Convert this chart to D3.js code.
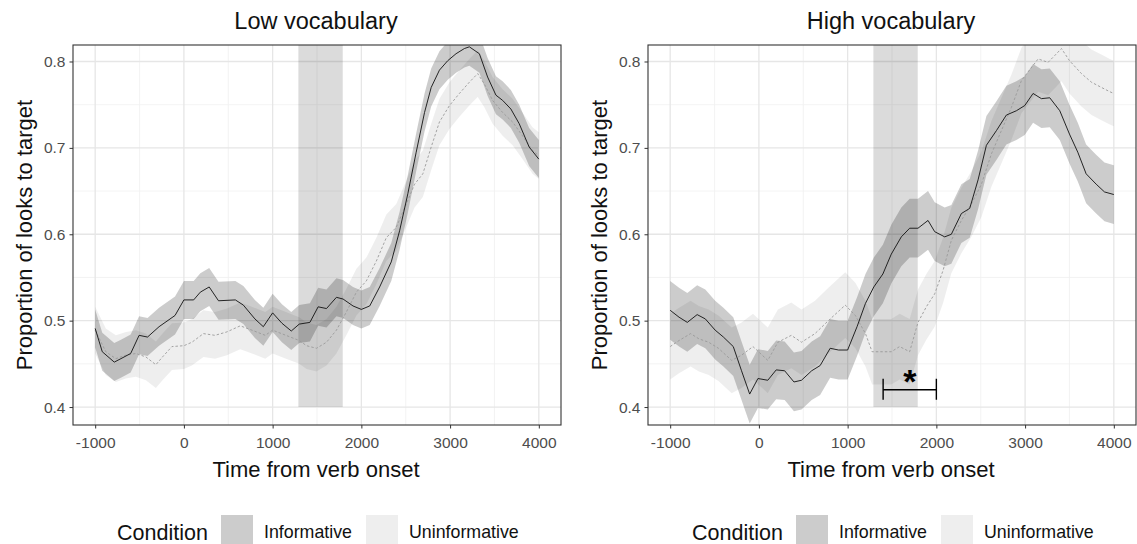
<!DOCTYPE html>
<html>
<head>
<meta charset="utf-8">
<script src="https://cdn.jsdelivr.net/npm/d3@7"></script>
<style>
  body { margin: 0; background: #fff; }
  text { font-family: Arial, "Liberation Sans", sans-serif; }
</style>
</head>
<body>
<div id="chart"></div>
<script>
// Data
var panelTitles = ["Low vocabulary", "High vocabulary"];
var xTicks = [-1000, 0, 1000, 2000, 3000, 4000];
var yTicks = [0.4, 0.5, 0.6, 0.7, 0.8];
var conditions = ["Informative", "Uninformative"];

var lowInfTime = [-1000, -920, -785, -710, -600, -505, -410, -280, -100, 0, 110, 185, 285, 390, 580, 670, 800, 895, 1000, 1105, 1210, 1300, 1420, 1513, 1607, 1719, 1794, 1906, 2000, 2094, 2206, 2337, 2431, 2524, 2618, 2712, 2787, 2880, 2974, 3067, 3161, 3217, 3330, 3423, 3517, 3592, 3685, 3779, 3891, 4000];
var lowInf = [0.491, 0.464, 0.452, 0.456, 0.462, 0.483, 0.481, 0.493, 0.506, 0.524, 0.524, 0.533, 0.539, 0.523, 0.524, 0.518, 0.502, 0.493, 0.509, 0.497, 0.488, 0.496, 0.498, 0.516, 0.514, 0.527, 0.525, 0.517, 0.513, 0.517, 0.539, 0.568, 0.604, 0.647, 0.695, 0.741, 0.770, 0.790, 0.801, 0.809, 0.815, 0.817, 0.809, 0.782, 0.761, 0.755, 0.745, 0.728, 0.701, 0.687];
var lowUninfTime = [-1000, -880, -767, -654, -541, -429, -316, -241, -135, 0, 90, 220, 350, 485, 635, 767, 917, 1000, 1150, 1300, 1382, 1494, 1607, 1719, 1831, 1944, 2056, 2169, 2281, 2393, 2506, 2600, 2693, 2787, 2880, 2993, 3105, 3217, 3311, 3386, 3479, 3592, 3704, 3816, 3929, 4000];
var lowUninf = [0.489, 0.464, 0.456, 0.460, 0.462, 0.458, 0.449, 0.458, 0.470, 0.471, 0.475, 0.485, 0.483, 0.487, 0.494, 0.489, 0.483, 0.489, 0.483, 0.477, 0.471, 0.468, 0.475, 0.489, 0.510, 0.533, 0.546, 0.569, 0.596, 0.608, 0.635, 0.658, 0.670, 0.701, 0.730, 0.749, 0.763, 0.776, 0.786, 0.774, 0.755, 0.741, 0.730, 0.714, 0.697, 0.691];

var highInfTime = [-1000, -900, -807, -696, -604, -493, -400, -289, -196, -104, -11, 100, 195, 290, 395, 480, 595, 690, 803, 898, 1000, 1106, 1201, 1295, 1397, 1492, 1605, 1699, 1793, 1906, 1981, 2094, 2169, 2282, 2376, 2470, 2564, 2677, 2789, 2902, 2996, 3090, 3184, 3278, 3391, 3500, 3594, 3688, 3801, 3895, 4000];
var highInf = [0.512, 0.504, 0.498, 0.507, 0.502, 0.489, 0.481, 0.470, 0.442, 0.415, 0.433, 0.431, 0.443, 0.442, 0.429, 0.431, 0.442, 0.448, 0.468, 0.466, 0.466, 0.493, 0.520, 0.539, 0.554, 0.577, 0.597, 0.607, 0.607, 0.616, 0.603, 0.597, 0.600, 0.624, 0.630, 0.663, 0.703, 0.720, 0.738, 0.743, 0.749, 0.763, 0.757, 0.758, 0.743, 0.716, 0.695, 0.670, 0.658, 0.649, 0.646];
var highUninfTime = [-1000, -900, -770, -677, -566, -456, -307, -196, -67, 100, 214, 365, 480, 632, 783, 973, 1087, 1201, 1276, 1390, 1492, 1586, 1699, 1793, 1887, 1981, 2075, 2169, 2282, 2395, 2508, 2620, 2733, 2846, 2959, 3034, 3147, 3259, 3335, 3410, 3500, 3635, 3748, 3860, 3955, 4000];
var highUninf = [0.470, 0.477, 0.485, 0.479, 0.475, 0.468, 0.454, 0.460, 0.470, 0.454, 0.475, 0.483, 0.475, 0.485, 0.500, 0.518, 0.506, 0.485, 0.464, 0.464, 0.464, 0.470, 0.464, 0.498, 0.516, 0.531, 0.558, 0.593, 0.616, 0.635, 0.658, 0.693, 0.720, 0.747, 0.778, 0.788, 0.803, 0.799, 0.807, 0.815, 0.801, 0.786, 0.776, 0.770, 0.765, 0.763];

// ribbon half widths
var ribbonHalf = { lowInf: 0.022, lowUninf: 0.027, highInf: 0.034, highUninf: 0.038 };
var windowStart = 1290, windowEnd = 1790, windowBottom = 0.4;
var sigStart = 1400, sigEnd = 2000, sigY = 0.42;

var panels = [
  { title: panelTitles[0], left: 73, inf: [lowInfTime, lowInf, ribbonHalf.lowInf], uninf: [lowUninfTime, lowUninf, ribbonHalf.lowUninf], sig: false },
  { title: panelTitles[1], left: 648, inf: [highInfTime, highInf, ribbonHalf.highInf], uninf: [highUninfTime, highUninf, ribbonHalf.highUninf], sig: true }
];

var svgWidth = 1137, svgHeight = 544;
var panelW = 488, plotTop = 45, plotBottom = 425;

var svg = d3.select("#chart").append("svg")
  .attr("width", svgWidth)
  .attr("height", svgHeight);

var y = d3.scaleLinear().domain([0.3792, 0.8191]).range([plotBottom, plotTop]);

panels.forEach(function(p, i) {
  var x = d3.scaleLinear().domain([-1250, 4250]).range([p.left, p.left + panelW]);
  var g = svg.append("g");

  svg.append("clipPath").attr("id", "clip" + i)
    .append("rect").attr("x", p.left).attr("y", plotTop).attr("width", panelW).attr("height", plotBottom - plotTop);

  // grid
  var minorX = [-500, 500, 1500, 2500, 3500];
  var minorY = [0.45, 0.55, 0.65, 0.75];
  g.selectAll(".gxm").data(minorX).enter().append("line")
    .attr("x1", d => x(d)).attr("x2", d => x(d)).attr("y1", plotTop).attr("y2", plotBottom)
    .attr("stroke", "#f0f0f0").attr("stroke-width", 0.8);
  g.selectAll(".gym").data(minorY).enter().append("line")
    .attr("x1", p.left).attr("x2", p.left + panelW).attr("y1", d => y(d)).attr("y2", d => y(d))
    .attr("stroke", "#f0f0f0").attr("stroke-width", 0.8);
  g.selectAll(".gx").data(xTicks).enter().append("line")
    .attr("x1", d => x(d)).attr("x2", d => x(d)).attr("y1", plotTop).attr("y2", plotBottom)
    .attr("stroke", "#e6e6e6").attr("stroke-width", 1.3);
  g.selectAll(".gy").data(yTicks).enter().append("line")
    .attr("x1", p.left).attr("x2", p.left + panelW).attr("y1", d => y(d)).attr("y2", d => y(d))
    .attr("stroke", "#e6e6e6").attr("stroke-width", 1.3);

  var plot = g.append("g").attr("clip-path", "url(#clip" + i + ")");

  // analysis window
  plot.append("rect")
    .attr("x", x(windowStart)).attr("width", x(windowEnd) - x(windowStart))
    .attr("y", plotTop).attr("height", y(windowBottom) - plotTop)
    .attr("fill", "#000").attr("fill-opacity", 0.14);

  function ribbon(s, opacity) {
    var pts = s[0].map((t, k) => ({ t: t, v: s[1][k] }));
    var area = d3.area().x(d => x(d.t)).y0(d => y(d.v - s[2])).y1(d => y(d.v + s[2]));
    plot.append("path").datum(pts).attr("d", area)
      .attr("fill", "#000").attr("fill-opacity", opacity);
  }
  function line(s, color, dash) {
    var pts = s[0].map((t, k) => ({ t: t, v: s[1][k] }));
    var ln = d3.line().x(d => x(d.t)).y(d => y(d.v));
    plot.append("path").datum(pts).attr("d", ln)
      .attr("fill", "none").attr("stroke", color).attr("stroke-width", 0.9)
      .attr("stroke-dasharray", dash);
  }
  ribbon(p.uninf, 0.065);
  ribbon(p.inf, 0.2);
  line(p.uninf, "#9a9a9a", "2.5,2");
  line(p.inf, "#111", null);

  // significance bracket
  if (p.sig) {
    var sy = y(sigY);
    plot.append("line").attr("x1", x(sigStart)).attr("x2", x(sigEnd)).attr("y1", sy).attr("y2", sy)
      .attr("stroke", "#000").attr("stroke-width", 1.4);
    [sigStart, sigEnd].forEach(function(t) {
      plot.append("line").attr("x1", x(t)).attr("x2", x(t)).attr("y1", sy - 11).attr("y2", sy + 10)
        .attr("stroke", "#000").attr("stroke-width", 1.4);
    });
    g.append("text").attr("x", x((sigStart + sigEnd) / 2)).attr("y", sy + 3)
      .attr("text-anchor", "middle").attr("font-size", 34).attr("font-weight", "bold")
      .text("*");
  }

  // border
  g.append("rect").attr("x", p.left).attr("y", plotTop).attr("width", panelW).attr("height", plotBottom - plotTop)
    .attr("fill", "none").attr("stroke", "#333").attr("stroke-width", 1.1);

  // axes
  var bottomAxis = d3.axisBottom(x).tickValues(xTicks).tickSize(3.5).tickPadding(8).tickFormat(d => String(d));
  var leftAxis = d3.axisLeft(y).tickValues(yTicks).tickSize(3.5).tickPadding(4).tickFormat(d => d.toFixed(1));
  var ax = g.append("g").attr("transform", `translate(0, ${plotBottom})`).call(bottomAxis);
  var ay = g.append("g").attr("transform", `translate(${p.left}, 0)`).call(leftAxis);
  [ax, ay].forEach(function(a) {
    a.select(".domain").remove();
    a.selectAll(".tick line").attr("stroke", "#333");
    a.selectAll(".tick text").attr("fill", "#4d4d4d").attr("font-size", 15.5)
      .attr("font-family", "Arial, 'Liberation Sans', sans-serif");
  });

  // labels
  g.append("text").attr("x", p.left + panelW / 2 - 1).attr("y", 29)
    .attr("text-anchor", "middle").attr("font-size", 23.5).attr("fill", "#111").text(p.title);
  g.append("text").attr("x", p.left + panelW / 2 - 1).attr("y", 477)
    .attr("text-anchor", "middle").attr("font-size", 22).attr("fill", "#111").text("Time from verb onset");
  g.append("text").attr("transform", `translate(${p.left - 41}, ${(plotTop + plotBottom) / 2}) rotate(-90)`)
    .attr("text-anchor", "middle").attr("font-size", 22).attr("fill", "#111").text("Proportion of looks to target");

  // legend
  var lx = p.left + 44;
  var lg = g.append("g");
  lg.append("text").attr("x", lx).attr("y", 540).attr("font-size", 21.5).attr("fill", "#111").text("Condition");
  var keyX = [lx + 104, lx + 249];
  var keyFill = [0.2, 0.065];
  conditions.forEach(function(c, k) {
    lg.append("rect").attr("x", keyX[k]).attr("y", 515).attr("width", 32).attr("height", 32)
      .attr("fill", "#000").attr("fill-opacity", keyFill[k]);
    lg.append("text").attr("x", keyX[k] + 43).attr("y", 538).attr("font-size", 17.8).attr("fill", "#111").text(c);
  });
});
</script>
</body>
</html>
